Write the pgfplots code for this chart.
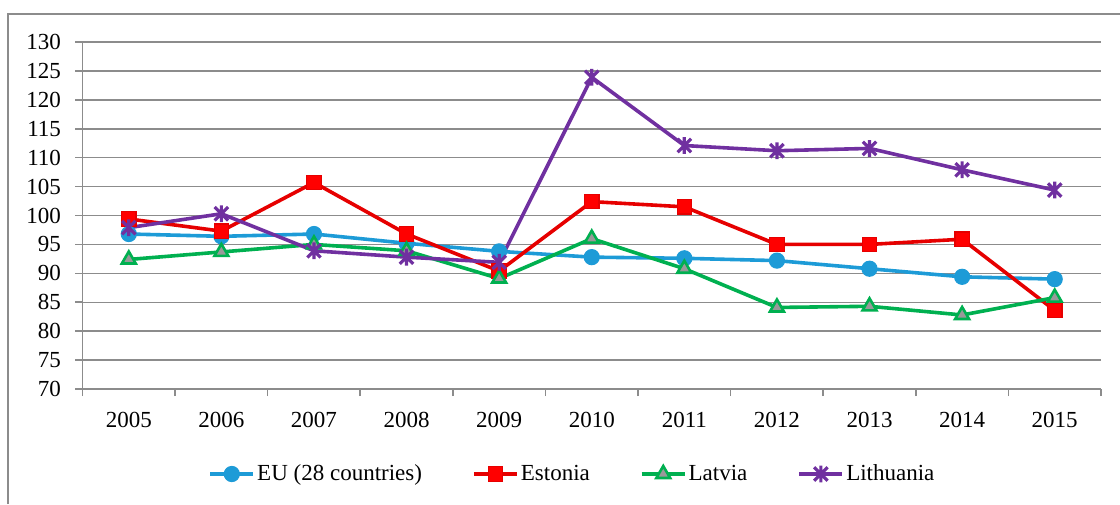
\documentclass[border=0pt]{standalone}
\usepackage{pgfplots}
\pgfplotsset{compat=1.18}
\usepackage{fontspec}
\setmainfont{Liberation Serif}
\definecolor{eublue}{RGB}{29,155,215}
\definecolor{estred}{RGB}{230,0,0}
\definecolor{latgreen}{RGB}{0,176,80}
\definecolor{litpurple}{RGB}{112,48,160}
\definecolor{gridgray}{RGB}{140,140,140}
\pgfdeclareplotmark{xstar}{%
  \pgfpathmoveto{\pgfqpoint{-0.8\pgfplotmarksize}{-0.8\pgfplotmarksize}}%
  \pgfpathlineto{\pgfqpoint{0.8\pgfplotmarksize}{0.8\pgfplotmarksize}}%
  \pgfpathmoveto{\pgfqpoint{-0.8\pgfplotmarksize}{0.8\pgfplotmarksize}}%
  \pgfpathlineto{\pgfqpoint{0.8\pgfplotmarksize}{-0.8\pgfplotmarksize}}%
  \pgfpathmoveto{\pgfqpoint{0pt}{-\pgfplotmarksize}}%
  \pgfpathlineto{\pgfqpoint{0pt}{\pgfplotmarksize}}%
  \pgfusepathqstroke}
\begin{document}
\begin{tikzpicture}[x=0.5pt,y=0.5pt]
\useasboundingbox (0,0) rectangle (1120,504);
\draw[gridgray, line width=0.8pt] (8,0) -- (8,490) -- (1120,490);
\begin{axis}[
  at={(41.25pt,57.5pt)}, anchor=south west,
  scale only axis,
  width=509.25pt, height=173.5pt,
  xmin=-0.5, xmax=10.5, ymin=70, ymax=130,
  axis lines*=left,
  axis line style={gridgray, line width=0.9pt, -},
  xtick={0,...,10},
  xticklabels={2005,2006,2007,2008,2009,2010,2011,2012,2013,2014,2015},
  major x tick style={draw=none},
  minor xtick={-0.5,0.5,...,10.5},
  minor tick length=3.5pt,
  minor x tick style={gridgray, line width=0.8pt},
  ytick={70,75,...,130},
  major tick length=3.75pt,
  tick align=outside,
  y tick style={gridgray, line width=0.8pt},
  ymajorgrids,
  grid style={gridgray, line width=0.75pt},
  /pgf/number format/assume math mode=true,
  tick label style={font=\fontsize{11.5}{13}\selectfont},
  yticklabel style={xshift=-3.5pt},
  xticklabel style={yshift=-4.5pt},
  legend columns=4,
  legend style={at={(0.481,-0.245)}, anchor=center, draw=none,
    font=\fontsize{11.5}{13}\selectfont,
    nodes={inner xsep=1pt},
    /tikz/every odd column/.append style={column sep=0pt},
    /tikz/every even column/.append style={column sep=24pt}},
  legend image code/.code={\draw[mark repeat=2,mark phase=2,#1] plot coordinates {(0cm,0cm) (0.38cm,0cm) (0.76cm,0cm)};},
  every axis plot/.append style={line width=1.8pt},
]
\addplot[color=eublue, mark=*, mark size=3.8pt, mark options={fill=eublue, draw=eublue, line width=0.5pt}]
  coordinates {(0,96.8) (1,96.4) (2,96.8) (3,95.2) (4,93.8) (5,92.8) (6,92.6) (7,92.2) (8,90.8) (9,89.4) (10,89.0)};
\addlegendentry{EU (28 countries)}
\addplot[color=estred, mark=square*, mark size=3.6pt, mark options={fill=red, draw=estred, line width=0.6pt}]
  coordinates {(0,99.4) (1,97.3) (2,105.7) (3,96.8) (4,90.4) (5,102.4) (6,101.5) (7,95.0) (8,95.0) (9,95.9) (10,83.6)};
\addlegendentry{Estonia}
\addplot[color=latgreen, mark=triangle*, mark size=4pt, mark options={fill=gray!80, draw=latgreen, line width=1.3pt}]
  coordinates {(0,92.4) (1,93.7) (2,95.0) (3,93.9) (4,89.1) (5,96.0) (6,90.8) (7,84.1) (8,84.3) (9,82.8) (10,85.8)};
\addlegendentry{Latvia}
\addplot[color=litpurple, mark=xstar, mark size=4.2pt, mark options={draw=litpurple, line width=1.6pt}]
  coordinates {(0,97.9) (1,100.3) (2,93.9) (3,92.8) (4,91.9) (5,123.9) (6,112.1) (7,111.2) (8,111.6) (9,107.9) (10,104.4)};
\addlegendentry{Lithuania}
\end{axis}
\end{tikzpicture}
\end{document}
